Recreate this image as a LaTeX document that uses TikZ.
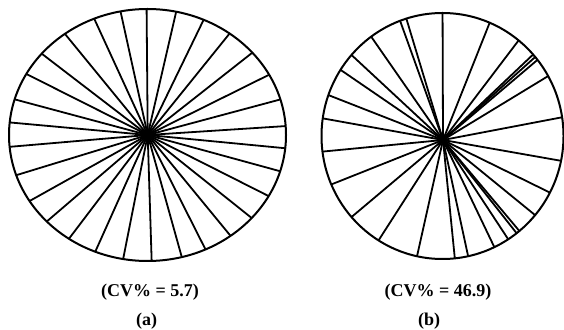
\documentclass[tikz,border=0pt]{standalone}
\usepackage{fontspec}
\setmainfont{Liberation Serif}
\tikzset{
  rim/.style={line width=2pt},
  spoke/.style={line width=1.8pt},
  caption/.style={font=\fontsize{18}{21}\selectfont\bfseries}
}
\begin{document}
\begin{tikzpicture}[x=1pt,y=1pt]
\useasboundingbox (0,0) rectangle (564,329);
% (a) nearly even split
\coordinate (hubA) at (147.7,194);
\begin{scope}
\clip (147.5,194) ellipse [x radius=138.5,y radius=126];
\foreach \a in {90.5,77.0,64.1,51.1,38.2,26.4,15.0,3.7,-5.5,-15.3,-26.8,-38.6,-50.6,-63.2,-74.4,
  -88.2,-101.2,-114.2,-127.2,-139.4,-150.8,-163.0,-175.1,174.8,165.0,153.3,142.5,129.3,114.7,102.4}
  \draw[spoke] (hubA) -- ++(\a:200);
\end{scope}
\draw[rim] (147.5,194) ellipse [x radius=138.5,y radius=126];
% (b) uneven split
\coordinate (hubB) at (443,189);
\begin{scope}
\clip (442.5,193) ellipse [x radius=121,y radius=123];
\foreach \a in {90.2,68.3,52.8,43.5,42.0,40.3,31.3,10.8,-10.0,-26.2,-39.2,-50.0,-51.7,-56.7,-64.4,
  -77.8,-84.3,-102.6,-122.7,-139.9,-158.3,-174.5,169.8,158.6,145.6,137.1,124.8,109.8,106.8}
  \draw[spoke] (hubB) -- ++(\a:200);
\end{scope}
\draw[rim] (442.5,193) ellipse [x radius=121,y radius=123];
% captions
\node[caption] (cvA) at (150,36.5) {(CV\% = 5.7)};
\node[caption] (labA) at (146.7,7.5) {(a)};
\node[caption] (cvB) at (438,36.5) {(CV\% = 46.9)};
\node[caption] (labB) at (429,7.5) {(b)};
\end{tikzpicture}
\end{document}
